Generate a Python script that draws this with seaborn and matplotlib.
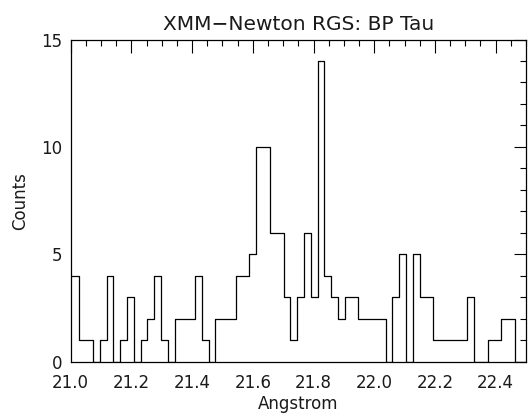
import numpy as np
import pandas as pd
import matplotlib
matplotlib.use("Agg")
import matplotlib.pyplot as plt
import seaborn as sns
from matplotlib.ticker import MultipleLocator

# ---- data ----
title = "XMM\u2212Newton RGS: BP Tau"
x_label = "Angstrom"
y_label = "Counts"
bin_start = 20.9835      # left edge of first bin (Angstrom)
bin_width = 0.02243      # bin width (Angstrom)
counts = [4, 4,
          1, 1, 0, 1, 4, 0, 1, 3, 0, 1, 2, 4, 1, 0,
          2, 2, 2, 4, 1, 0, 2, 2, 2, 4, 4, 5,
          10, 10, 6, 6, 3, 1, 3, 6, 3, 14,
          4, 3, 2, 3, 3, 2, 2, 2, 2, 0, 3, 5, 0, 5,
          3, 3, 1, 1, 1, 1, 1, 3, 0, 0, 1, 1, 2, 2,
          0, 0]
x_ticks = [21.0, 21.2, 21.4, 21.6, 21.8, 22.0, 22.2, 22.4]
y_ticks = [0, 5, 10, 15]

edges = bin_start + bin_width * np.arange(len(counts) + 1)
df = pd.DataFrame({"edge": edges, "counts": list(counts) + [counts[-1]]})

sns.set_style("white")
plt.rcParams["font.family"] = ["DejaVu Sans"]

fig = plt.figure(figsize=(5.29, 4.16), dpi=100)
ax = fig.add_axes([0.1336, 0.1305, 0.8607, 0.7745])

sns.lineplot(data=df, x="edge", y="counts", drawstyle="steps-post",
             estimator=None, color="black", linewidth=0.9, ax=ax)

ax.set_xlim(21.0, 22.5)
ax.set_ylim(0, 15)
ax.set_xticks(x_ticks)
ax.set_xticklabels([f"{v:.1f}" for v in x_ticks])
ax.set_yticks(y_ticks)
ax.xaxis.set_minor_locator(MultipleLocator(0.05))
ax.yaxis.set_minor_locator(MultipleLocator(1))
ax.tick_params(which="both", direction="in", top=True, right=True,
               color="black", width=0.8, labelsize=12, labelcolor="#1a1a1a")
ax.tick_params(which="major", length=9)
ax.tick_params(which="minor", length=4.5)
ax.tick_params(axis="x", which="major", pad=9)
ax.tick_params(axis="y", which="major", pad=6)
for s in ax.spines.values():
    s.set_color("black")
    s.set_linewidth(0.9)

ax.set_xlabel(x_label, fontsize=12, color="#1a1a1a", labelpad=2)
ax.set_ylabel(y_label, fontsize=12, color="#1a1a1a", labelpad=9)
ax.set_title(title, fontsize=14.5, color="#1a1a1a", pad=7)

fig.savefig("out.png", dpi=100)
